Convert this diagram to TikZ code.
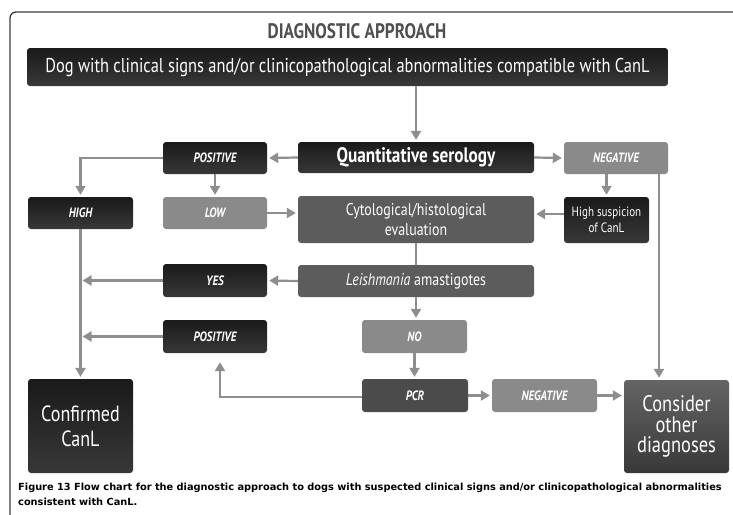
\documentclass[tikz,border=0pt]{standalone}
\usepackage{fontspec}
\setmainfont{PT Sans}[FakeStretch=0.82]
\newfontfamily\capfont{DejaVu Sans}
\usetikzlibrary{arrows.meta}
\definecolor{inkblack}{HTML}{1A1A1A}
\definecolor{softblack}{HTML}{383838}
\definecolor{steel}{HTML}{5C5C5C}
\definecolor{pcrgray}{HTML}{4B4B4B}
\definecolor{ash}{HTML}{8A8A8A}
\definecolor{wire}{HTML}{8E8E8E}
\definecolor{titlegray}{HTML}{3C3C3C}
\begin{document}
\begin{tikzpicture}[x=1pt,y=-1pt,
  flow/.style={rounded corners=3pt,minimum width=104pt,minimum height=32pt,align=center,inner sep=2pt,text=white},
  blackbox/.style={flow,top color=inkblack,bottom color=softblack},
  greybox/.style={flow,fill=ash},
  midbox/.style={flow,fill=steel},
  tag/.style={font=\fontsize{13.5}{15}\selectfont\bfseries\itshape},
  link/.style={draw=wire,line width=2.2pt,shorten >=2pt,-{Triangle[length=9pt,width=10pt]}}]
\useasboundingbox (0,0) rectangle (733,514);
\draw[line width=1.3pt,draw=titlegray,rounded corners=6pt] (10,12) rectangle (760,540);
\node[font=\fontsize{21}{23}\selectfont\bfseries,text=titlegray!90!white] (title) at (357,31) {DIAGNOSTIC APPROACH};
\node[blackbox,minimum width=641pt,minimum height=38pt,font=\fontsize{20}{22}\selectfont] (top) at (347.5,67) {Dog with clinical signs and/or clinicopathological abnormalities compatible with CanL};
\node[blackbox,minimum width=236pt,minimum height=31pt,font=\fontsize{21}{23}\selectfont\bfseries] (quant) at (416,157.5) {Quantitative serology};
\node[blackbox,tag] (pos1) at (215,158) {POSITIVE};
\node[greybox,tag] (neg1) at (616,158) {NEGATIVE};
\node[blackbox,tag,minimum width=105pt] (high) at (80.5,213) {HIGH};
\node[greybox,tag] (low) at (215,213) {LOW};
\node[midbox,minimum width=236pt,minimum height=47pt,font=\fontsize{17}{20}\selectfont] (cyto) at (416,219.5) {Cytological/histological\\evaluation};
\node[blackbox,minimum width=85pt,minimum height=46pt,font=\fontsize{13.5}{16}\selectfont] (hs) at (606.5,220) {High suspicion\\of CanL};
\node[blackbox,tag,minimum height=33pt] (yes) at (215,280.5) {YES};
\node[midbox,minimum width=236pt,font=\fontsize{17}{20}\selectfont] (leish) at (416,281) {\textit{Leishmania} amastigotes};
\node[blackbox,tag,minimum height=33pt] (pos2) at (215,336.5) {POSITIVE};
\node[greybox,tag,minimum width=105pt,minimum height=33pt] (no) at (414.5,336.5) {NO};
\node[flow,fill=pcrgray,tag,minimum width=106pt,minimum height=33pt] (pcr) at (415,395.5) {PCR};
\node[greybox,tag,minimum width=105pt,minimum height=33pt] (neg2) at (544.5,395.5) {NEGATIVE};
\node[blackbox,minimum width=105pt,minimum height=94pt,font=\fontsize{22}{25}\selectfont] (conf) at (80.5,426) {Confirmed\\CanL};
\node[flow,top color=steel!95!white,bottom color=softblack,minimum width=105pt,minimum height=93pt,font=\fontsize{22.5}{20.5}\selectfont] (cons) at (676.5,426.5) {Consider\\other\\diagnoses};
\node[anchor=north west,align=left,inner sep=0pt,font=\capfont\bfseries\fontsize{9.8}{14.5}\selectfont] (caption) at (18,483) {Figure 13 Flow chart for the diagnostic approach to dogs with suspected clinical signs and/or clinicopathological abnormalities\\consistent with CanL.};
% connectors
\draw[link] (quant.north |- top.south) -- (quant.north);
\draw[link] (quant.west) -- (pos1.east);
\draw[link] (quant.east) -- (neg1.west);
\draw[link] (pos1.west) -| (high.north);
\draw[link] (pos1.south) -- (low.north);
\draw[link] (neg1.south -| hs.north) -- (hs.north);
\draw[link] (low.east) -- (low.east -| cyto.west);
\draw[link] ([yshift=6pt]hs.west) -- ([yshift=6pt]hs.west -| cyto.east);
\draw[draw=wire,line width=2.2pt] (cyto.south) -- (leish.north);
\draw[link] (leish.west) -- (yes.east);
\draw[link] (yes.west) -- (yes.west -| high.south);
\draw[link] (leish.south) -- (leish.south |- no.north);
\draw[link] (high.south) -- (conf.north);
\draw[link] (pos2.west) -- (pos2.west -| high.south);
\draw[link] (no.south) -- (no.south |- pcr.north);
\draw[link] (pcr.east) -- (neg2.west);
\draw[link] (neg2.east) -- (neg2.east -| cons.west);
\draw[link] ([xshift=43pt]neg1.south) -- ([xshift=43pt]neg1.south |- cons.north);
\draw[link,shorten >=9pt] ([yshift=-1.5pt]pcr.west) -| ([xshift=5pt]pos2.south);
\end{tikzpicture}
\end{document}
